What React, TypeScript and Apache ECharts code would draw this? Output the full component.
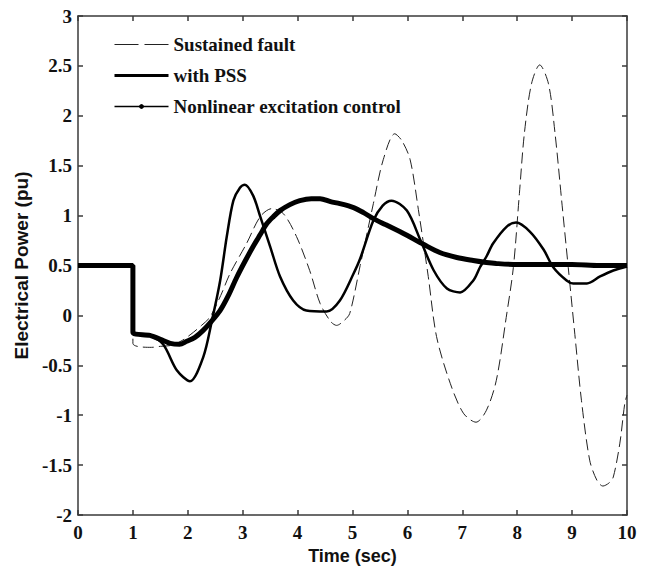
import React, { useEffect, useRef } from "react";
import * as echarts from "echarts";

const faultT = [0, 1, 1, 1.34, 1.5, 1.7, 1.9, 2.1, 2.25, 2.4, 2.6, 2.77, 3.07, 3.32, 3.53, 3.74, 3.98, 4.22, 4.41, 4.6, 4.71, 4.85, 4.95, 5.14, 5.38, 5.56, 5.77, 5.9, 6.05, 6.2, 6.38, 6.53, 6.78, 7.02, 7.25, 7.44, 7.62, 7.8, 7.93, 8.04, 8.13, 8.26, 8.41, 8.57, 8.69, 8.81, 8.93, 9.05, 9.17, 9.32, 9.45, 9.56, 9.67, 9.75, 9.87, 9.96, 10];
const faultV = [0.5, 0.5, -0.28, -0.32, -0.31, -0.3, -0.25, -0.17, -0.1, -0.02, 0.2, 0.42, 0.72, 0.99, 1.07, 1.02, 0.79, 0.45, 0.12, -0.06, -0.1, -0.05, 0.02, 0.5, 1.12, 1.56, 1.82, 1.75, 1.56, 1.06, 0.39, -0.21, -0.68, -0.98, -1.07, -0.95, -0.65, -0.02, 0.48, 1.22, 1.82, 2.32, 2.51, 2.32, 1.82, 1.15, 0.48, -0.19, -0.85, -1.45, -1.65, -1.71, -1.68, -1.62, -1.28, -0.88, -0.8];

const pssT = [0, 1, 1, 1.3, 1.55, 1.8, 2.04, 2.28, 2.44, 2.59, 2.71, 2.83, 2.95, 3.04, 3.19, 3.32, 3.5, 3.68, 3.92, 4.16, 4.53, 4.77, 5.02, 5.14, 5.38, 5.55, 5.71, 5.99, 6.24, 6.48, 6.72, 6.96, 7.2, 7.32, 7.44, 7.56, 7.81, 7.98, 8.23, 8.48, 8.66, 8.9, 9.02, 9.27, 9.51, 9.75, 10];
const pssV = [0.5, 0.5, -0.17, -0.2, -0.29, -0.55, -0.66, -0.42, -0.05, 0.35, 0.79, 1.15, 1.28, 1.31, 1.2, 0.99, 0.69, 0.39, 0.15, 0.05, 0.04, 0.15, 0.42, 0.57, 0.95, 1.1, 1.15, 1.05, 0.75, 0.45, 0.27, 0.23, 0.35, 0.48, 0.59, 0.72, 0.89, 0.93, 0.84, 0.66, 0.48, 0.35, 0.32, 0.32, 0.39, 0.45, 0.49];

const nlT = [0, 1, 1, 1.31, 1.5, 1.68, 1.85, 1.98, 2.13, 2.28, 2.43, 2.59, 2.74, 2.89, 3.04, 3.19, 3.32, 3.44, 3.56, 3.68, 3.86, 4.04, 4.25, 4.41, 4.6, 4.77, 5.02, 5.2, 5.38, 5.6, 5.86, 6.0, 6.3, 6.59, 6.9, 7.2, 7.44, 7.62, 8, 8.5, 9, 9.5, 10];
const nlV = [0.5, 0.5, -0.17, -0.2, -0.24, -0.28, -0.29, -0.26, -0.22, -0.15, -0.06, 0.05, 0.2, 0.38, 0.54, 0.69, 0.81, 0.92, 0.99, 1.05, 1.11, 1.15, 1.17, 1.17, 1.14, 1.12, 1.08, 1.03, 0.97, 0.91, 0.84, 0.8, 0.71, 0.63, 0.58, 0.55, 0.53, 0.52, 0.51, 0.51, 0.51, 0.5, 0.5];

const seriesNames = ["Sustained fault", "with PSS", "Nonlinear excitation control"];
const xName = "Time (sec)";
const yName = "Electrical Power (pu)";

const zip = (t: number[], v: number[]) => t.map((x, i) => [x, v[i]]);

const axisColor = "#3a3a3a";
const serif = "'Liberation Serif', 'Times New Roman', serif";
const sans = "'Liberation Sans', Arial, sans-serif";

export default function App() {
  const ref = useRef<HTMLDivElement>(null);
  useEffect(() => {
    if (!ref.current) return;
    const chart = echarts.init(ref.current, undefined, { renderer: "svg" });
    const tickLabel = { color: "#111", fontFamily: serif, fontWeight: "bold" as const, fontSize: 19 };
    const baseAxis = {
      type: "value" as const,
      axisLine: { show: true, onZero: false, lineStyle: { color: axisColor, width: 1.5 } },
      axisTick: { show: true, inside: true, length: 5, lineStyle: { color: axisColor, width: 1.5 } },
      splitLine: { show: false },
    };
    chart.setOption({
      animation: false,
      backgroundColor: "#fff",
      grid: { left: 78, right: 19, top: 16, bottom: 57 },
      legend: {
        orient: "vertical",
        left: 113,
        top: 35,
        padding: 0,
        itemWidth: 54,
        itemHeight: 6,
        itemGap: 12,
        textStyle: { color: "#111", fontFamily: serif, fontWeight: "bold", fontSize: 19 },
        data: [
          { name: seriesNames[0], itemStyle: { opacity: 0 }, lineStyle: { type: [24, 6], width: 1.2 } },
          { name: seriesNames[1], itemStyle: { opacity: 0 }, lineStyle: { width: 3 } },
          { name: seriesNames[2], lineStyle: { width: 1.5 } },
        ],
      },
      xAxis: [
        {
          ...baseAxis,
          min: 0,
          max: 10,
          interval: 1,
          position: "bottom",
          axisLabel: { ...tickLabel, margin: 8 },
          name: xName,
          nameLocation: "middle",
          nameGap: 29,
          nameTextStyle: { color: "#111", fontFamily: sans, fontWeight: "bold", fontSize: 18 },
        },
        {
          ...baseAxis,
          min: 0,
          max: 10,
          interval: 1,
          position: "top",
          axisLabel: { show: false },
        },
      ],
      yAxis: [
        {
          ...baseAxis,
          min: -2,
          max: 3,
          interval: 0.5,
          position: "left",
          axisLabel: { ...tickLabel, margin: 6 },
          name: yName,
          nameLocation: "middle",
          nameGap: 45,
          nameTextStyle: { color: "#111", fontFamily: sans, fontWeight: "bold", fontSize: 19 },
        },
        {
          ...baseAxis,
          min: -2,
          max: 3,
          interval: 0.5,
          position: "right",
          axisLabel: { show: false },
        },
      ],
      series: [
        {
          name: seriesNames[0],
          type: "line",
          data: zip(faultT, faultV),
          symbol: "none",
          smooth: 0.3,
          lineStyle: { color: "#222", width: 1, type: [11, 5] },
          itemStyle: { color: "#222" },
          z: 2,
        },
        {
          name: seriesNames[1],
          type: "line",
          data: zip(pssT, pssV),
          symbol: "none",
          smooth: 0.3,
          lineStyle: { color: "#000", width: 2.5 },
          itemStyle: { color: "#000" },
          z: 3,
        },
        {
          name: seriesNames[2],
          type: "line",
          data: zip(nlT, nlV),
          symbol: "circle",
          symbolSize: 5,
          showSymbol: false,
          smooth: 0.3,
          lineStyle: { color: "#000", width: 5 },
          itemStyle: { color: "#000" },
          z: 4,
        },
      ],
    });
    return () => chart.dispose();
  }, []);
  return <div ref={ref} style={{ position: "fixed", left: 0, top: 0, width: 646, height: 572 }} />;
}
